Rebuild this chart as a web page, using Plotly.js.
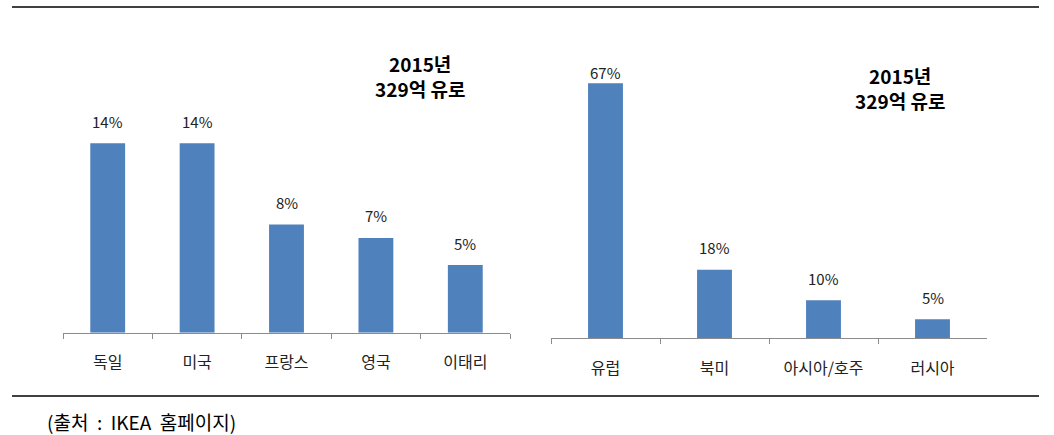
<!DOCTYPE html>
<html>
<head>
<meta charset="utf-8">
<script src="https://cdn.plot.ly/plotly-3.0.1.min.js"></script>
<style>
html,body{margin:0;padding:0;background:#fff;}
#chart{width:1054px;height:435px;}
</style>
</head>
<body>
<div id="chart"></div>
<script>
// Data
const countryLabels = ['독일', '미국', '프랑스', '영국', '이태리'];
const countryValues = [14, 14, 8, 7, 5];
const regionLabels = ['유럽', '북미', '아시아/호주', '러시아'];
const regionValues = [67, 18, 10, 5];
const panelTitle = '2015년<br>329억 유로';
const sourceText = '(출처  :  IKEA  홈페이지)';

const W = 1054, H = 435;
const px = v => v / W;
const py = v => (H - v) / H;

const barColor = '#4F81BD';
const font = '"Noto Sans CJK KR", "Malgun Gothic", sans-serif';

const traces = [
  {type:'bar', x: countryLabels, y: countryValues, xaxis:'x', yaxis:'y',
   marker:{color: barColor}, width: 0.39, hoverinfo:'none', cliponaxis:false},
  {type:'bar', x: regionLabels, y: regionValues, xaxis:'x2', yaxis:'y2',
   marker:{color: barColor}, width: 0.32, hoverinfo:'none', cliponaxis:false}
];

const annotations = [];
countryLabels.forEach((c, i) => {
  annotations.push({xref:'x', yref:'y', x: c, y: countryValues[i], text: countryValues[i] + '%',
    showarrow:false, yshift: 22, yanchor:'middle', font:{family: font, size: 15, color:'#222'}});
});
regionLabels.forEach((c, i) => {
  annotations.push({xref:'x2', yref:'y2', x: c, y: regionValues[i], text: regionValues[i] + '%',
    showarrow:false, yshift: regionValues[i] > 60 ? 11 : 22, yanchor:'middle', font:{family: font, size: 15, color:'#222'}});
});
annotations.push({xref:'paper', yref:'paper', x: px(420), y: py(76), xanchor:'center', yanchor:'middle',
  text: '<b>' + panelTitle + '</b>', showarrow:false, font:{family: font, size: 19, color:'#000'}, align:'center'});
annotations.push({xref:'paper', yref:'paper', x: px(900), y: py(87.5), xanchor:'center', yanchor:'middle',
  text: '<b>' + panelTitle + '</b>', showarrow:false, font:{family: font, size: 19, color:'#000'}, align:'center'});
annotations.push({xref:'paper', yref:'paper', x: px(45), y: py(421), xanchor:'left', yanchor:'middle',
  text: sourceText, showarrow:false, font:{family: font, size: 19, color:'#000'}});

const xaxisCommon = {
  type:'category', showgrid:false, zeroline:false, showline:true, linecolor:'#8c8c8c', linewidth:1,
  ticks:'outside', tickson:'boundaries', ticklen:5, tickcolor:'#8c8c8c', tickwidth:1,
  ticklabelstandoff: 15,
  tickfont:{family: font, size: 16, color:'#222'}, fixedrange:true
};
const yaxisCommon = {showgrid:false, zeroline:false, showline:false, showticklabels:false, ticks:'', fixedrange:true};

const layout = {
  width: W, height: H,
  margin:{l:0, r:0, t:0, b:0},
  paper_bgcolor:'#fff', plot_bgcolor:'rgba(0,0,0,0)',
  showlegend:false,
  xaxis: Object.assign({}, xaxisCommon, {domain:[px(63), px(510)], range:[-0.5, 4.5], anchor:'y'}),
  yaxis: Object.assign({}, yaxisCommon, {domain:[py(332.7), py(62.1)], range:[0, 20], anchor:'x'}),
  xaxis2: Object.assign({}, xaxisCommon, {domain:[px(551), px(987)], range:[-0.5, 3.5], anchor:'y2'}),
  yaxis2: Object.assign({}, yaxisCommon, {domain:[py(338.3), py(71.9)], range:[0, 70], anchor:'x2'}),
  annotations: annotations,
  shapes: [
    {type:'line', xref:'paper', yref:'paper', x0: px(12), x1: px(1039), y0: py(7), y1: py(7), line:{color:'#000', width:1.5}},
    {type:'line', xref:'paper', yref:'paper', x0: px(12), x1: px(1039), y0: py(396), y1: py(396), line:{color:'#000', width:1.5}}
  ]
};

Plotly.newPlot('chart', traces, layout, {displayModeBar:false, staticPlot:true});
</script>
</body>
</html>
